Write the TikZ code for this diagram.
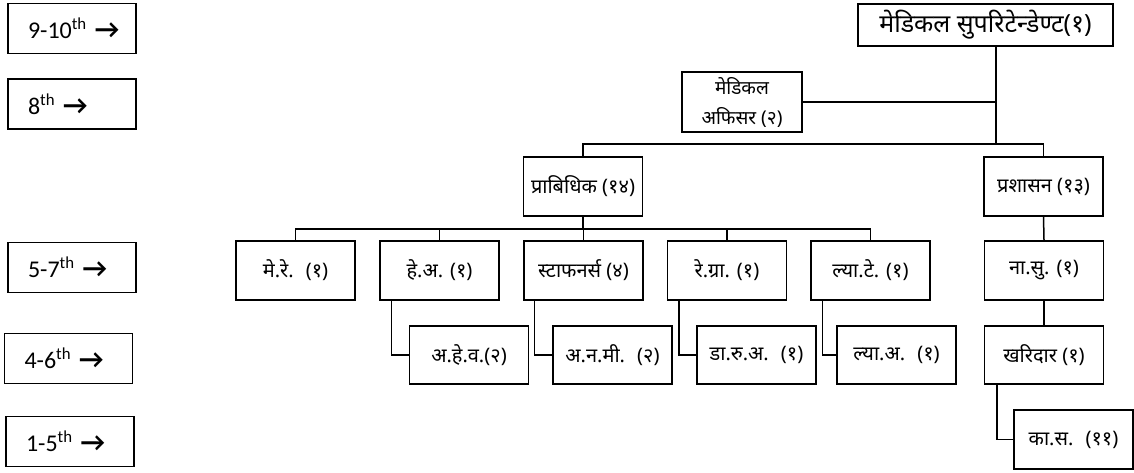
\documentclass[tikz,border=0pt]{standalone}
\usepackage{fontspec}
\setmainfont{Carlito}
\newfontfamily\devfont[Script=Devanagari]{Noto Sans}
\newcommand\lvl[1]{\makebox[88pt][l]{#1\hspace{8pt}{\fontsize{27}{26}\selectfont\bfseries →}}}
\begin{document}
\begin{tikzpicture}[x=1pt, y=-1pt, line width=1.5pt,
    main node/.style={draw, minimum width=119pt, minimum height=59pt, inner sep=2pt, font=\devfont\fontsize{20}{28}\selectfont, align=center},
    level node/.style={draw, minimum width=128pt, minimum height=50pt, inner xsep=20pt, font=\fontsize{24}{26}\selectfont}]
    \useasboundingbox (0,0) rectangle (1134,472);
    % grade levels
    \node[level node] (l1) at (72,28.5) {\lvl{9-10\textsuperscript{th}}};
    \node[level node] (l2) at (72,104) {\lvl{8\textsuperscript{th}}};
    \node[level node] (l3) at (72,267.5) {\lvl{5-7\textsuperscript{th}}};
    \node[level node] (l4) at (68.5,358.5) {\lvl{4-6\textsuperscript{th}}};
    \node[level node] (l5) at (70,441.5) {\lvl{1-5\textsuperscript{th}}};
    % posts
    \node[main node, minimum width=255pt, minimum height=42pt, font=\devfont\fontsize{25}{28}\selectfont] (sup) at (985.5,25) {मेडिकल सुपरिटेन्डेण्ट(१)};
    \node[main node, minimum width=120pt, minimum height=60pt, font=\devfont\fontsize{19}{30}\selectfont] (mo) at (742,102) {मेडिकल\\अफिसर (२)};
    \node[main node] (prab) at (583,186.5) {प्राबिधिक (१४)};
    \node[main node] (pras) at (1043.5,186.5) {प्रशासन (१३)};
    \node[main node] (mere) at (295.5,270.5) {मे.रे. \ (१)};
    \node[main node] (hea) at (439.5,270.5) {हे.अ. (१)};
    \node[main node] (staf) at (583.5,270.5) {स्टाफनर्स (४)};
    \node[main node] (regra) at (727,270.5) {रे.ग्रा. (१)};
    \node[main node] (lyate) at (870.5,270.5) {ल्या.टे. (१)};
    \node[main node] (nasu) at (1044,270.5) {ना.सु. (१)};
    \node[main node, minimum height=58pt] (aheva) at (469,355) {अ.हे.व.(२)};
    \node[main node, minimum height=58pt] (anami) at (612.5,355) {अ.न.मी. \ (२)};
    \node[main node, minimum height=58pt] (darua) at (756.5,355) {डा.रु.अ. \ (१)};
    \node[main node, minimum height=58pt] (lyaa) at (896.5,355) {ल्या.अ. \ (१)};
    \node[main node, minimum height=58pt] (khar) at (1044,355) {खरिदार (१)};
    \node[main node] (kasa) at (1073.5,439.5) {का.स. \ (११)};
    \coordinate (j1) at (996,102);
    \coordinate (j2) at (996,144);
    \coordinate (bus) at (583,229);
    % lines
    \draw (sup.south -| j1) -- (j2);
    \draw (mo.east) -- (j1);
    \draw (prab.north) |- (j2) -| (pras.north);
    \draw (prab.south) -- (bus);
    \draw (mere.north) -- (mere.north |- bus) -| (lyate.north);
    \foreach \n in {hea,staf,regra}
        \draw (\n.north) -- (\n.north |- bus);
    \draw ([xshift=12pt]hea.south west) |- (aheva.west);
    \draw ([xshift=11pt]staf.south west) |- (anami.west);
    \draw ([xshift=12pt]regra.south west) |- (darua.west);
    \draw ([xshift=12pt]lyate.south west) |- (lyaa.west);
    \draw (pras.south) -- (nasu.north);
    \draw (nasu.south) -- (khar.north);
    \draw ([xshift=13pt]khar.south west) |- (kasa.west);
\end{tikzpicture}
\end{document}
